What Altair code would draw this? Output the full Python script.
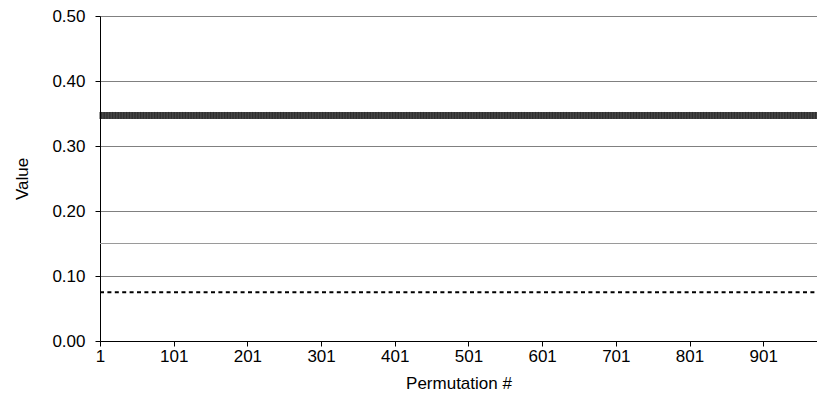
import altair as alt
import pandas as pd

# Data
n_perm = 1000
permutations = list(range(1, n_perm + 1))
observed = [0.347] * n_perm          # thick striped series
threshold_a = [0.15] * n_perm        # thin grey line
threshold_b = [0.075] * n_perm       # dotted line
x_ticks = [1, 101, 201, 301, 401, 501, 601, 701, 801, 901]
y_ticks = [0.0, 0.1, 0.2, 0.3, 0.4, 0.5]

df = pd.DataFrame({
    "perm": permutations,
    "observed": observed,
    "a": threshold_a,
    "b": threshold_b,
})

FONT = "Liberation Sans"
FS = 17
xscale = alt.Scale(domain=[1, 974], nice=False, zero=False)
yscale = alt.Scale(domain=[0, 0.5], nice=False)

base = alt.Chart(df)

x_enc = alt.X("perm:Q", scale=xscale,
              axis=alt.Axis(values=x_ticks, title="Permutation #", grid=False,
                            domainColor="#000000", tickColor="#000000",
                            tickSize=5, labelFontSize=FS, titleFontSize=FS,
                            labelFont=FONT, titleFont=FONT, labelColor="#000",
                            titleColor="#000", titleFontWeight="normal",
                            labelPadding=2, titlePadding=11,
                            labelFlush=False))

y_axis = alt.Axis(values=y_ticks, format=".2f", title="Value",
                  grid=True, gridColor="#808080", gridWidth=1,
                  domainColor="#000000", tickColor="#000000", tickSize=5,
                  labelFontSize=FS, titleFontSize=FS, labelFont=FONT,
                  titleFont=FONT, labelColor="#000", titleColor="#000",
                  titleFontWeight="normal", labelPadding=10, titlePadding=20)

obs = base.mark_tick(orient="vertical", size=7, thickness=1.1, color="#000000").encode(
    x=x_enc,
    y=alt.Y("observed:Q", scale=yscale, axis=y_axis),
)

line_a = base.mark_line(color="#9a9a9a", strokeWidth=1.2).encode(
    x="perm:Q", y="a:Q"
)

line_b = base.mark_line(color="#000000", strokeWidth=2, strokeDash=[4, 3.4]).encode(
    x="perm:Q", y="b:Q"
)

chart = alt.layer(line_a, line_b, obs).properties(
    width=717, height=325,
    autosize=alt.AutoSizeParams(type="none"),
    padding={"left": 92, "top": 8, "right": 0, "bottom": 60},
).configure_view(stroke=None).configure(background="white")

chart.save("out.html", embed_options={"renderer": "svg", "actions": False})
